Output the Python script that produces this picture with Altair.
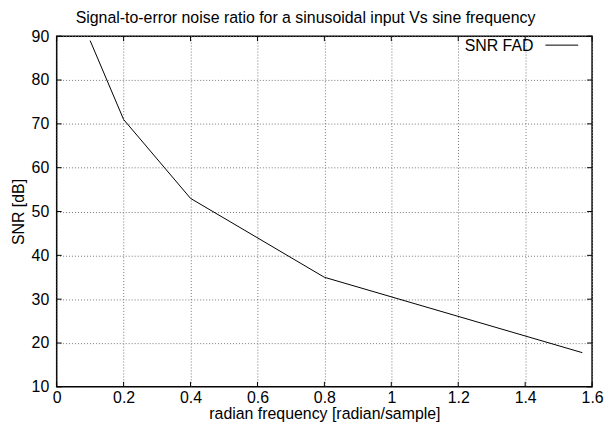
import altair as alt
import pandas as pd

freq = [0.1, 0.2, 0.4, 0.8, 1.5708]
snr = [89.0, 71.0, 53.0, 35.0, 17.8]
x_ticks = [0, 0.2, 0.4, 0.6, 0.8, 1.0, 1.2, 1.4, 1.6]
y_ticks = [10, 20, 30, 40, 50, 60, 70, 80, 90]

W, H = 539, 353
FONT = "Liberation Sans"
FS = 16

df = pd.DataFrame({"f": freq, "snr": snr})
xt = pd.DataFrame({"t": x_ticks})
yt = pd.DataFrame({"t": y_ticks})

xs = alt.Scale(domain=[0, 1.6], nice=False, zero=False)
ys = alt.Scale(domain=[10, 90], nice=False, zero=False)

xaxis = alt.Axis(values=x_ticks, title="radian frequency [radian/sample]", grid=True,
                 gridDash=[1, 2], gridColor="#777", gridWidth=1, ticks=False, domain=False,
                 labelFlush=False, labelOverlap=False,
                 labelFont=FONT, labelFontSize=FS, labelColor="black", labelPadding=3,
                 titleFont=FONT, titleFontSize=FS, titleFontWeight="normal", titleColor="black",
                 titlePadding=0, labelExpr="format(datum.value, '~g')")
yaxis = alt.Axis(values=y_ticks, title="SNR [dB]", grid=True,
                 gridDash=[1, 2], gridColor="#777", gridWidth=1, ticks=False, domain=False,
                 labelFlush=False, labelOverlap=False,
                 labelFont=FONT, labelFontSize=FS, labelColor="black", labelPadding=8,
                 titleFont=FONT, titleFontSize=FS, titleFontWeight="normal", titleColor="black",
                 titlePadding=5)

base_line = alt.Chart(df).mark_line(color="black", strokeWidth=1, clip=True).encode(
    x=alt.X("f:Q", scale=xs, axis=xaxis),
    y=alt.Y("snr:Q", scale=ys, axis=yaxis),
)

tick_len = 5
xb = alt.Chart(xt).mark_rule(color="black", strokeWidth=1).encode(
    x=alt.X("t:Q", scale=xs), y=alt.value(H), y2=alt.value(H - tick_len))
xtop = alt.Chart(xt).mark_rule(color="black", strokeWidth=1).encode(
    x=alt.X("t:Q", scale=xs), y=alt.value(0), y2=alt.value(tick_len))
yl = alt.Chart(yt).mark_rule(color="black", strokeWidth=1).encode(
    y=alt.Y("t:Q", scale=ys), x=alt.value(0), x2=alt.value(tick_len))
yr = alt.Chart(yt).mark_rule(color="black", strokeWidth=1).encode(
    y=alt.Y("t:Q", scale=ys), x=alt.value(W), x2=alt.value(W - tick_len))

leg_df = pd.DataFrame({"label": ["SNR FAD"]})
leg_text = alt.Chart(leg_df).mark_text(font=FONT, fontSize=FS, align="right",
                                       baseline="alphabetic", color="black").encode(
    text="label:N", x=alt.value(480), y=alt.value(14.5))
leg_line = alt.Chart(leg_df).mark_rule(color="black", strokeWidth=1).encode(
    x=alt.value(492), x2=alt.value(525), y=alt.value(9))

chart = alt.layer(base_line, xb, xtop, yl, yr, leg_text, leg_line).properties(
    width=W, height=H,
    title=alt.TitleParams("Signal-to-error noise ratio for a sinusoidal input Vs sine frequency",
                          font=FONT, fontSize=FS, fontWeight="normal", color="black",
                          anchor="middle", frame="group", dx=-19, offset=2),
    padding={"left": 49, "top": 27, "right": 14, "bottom": 34},
    autosize=alt.AutoSizeParams(type="none"),
).configure_view(stroke="black", strokeWidth=1.5)

chart.save("out.html", embed_options={"renderer": "svg", "actions": False})
